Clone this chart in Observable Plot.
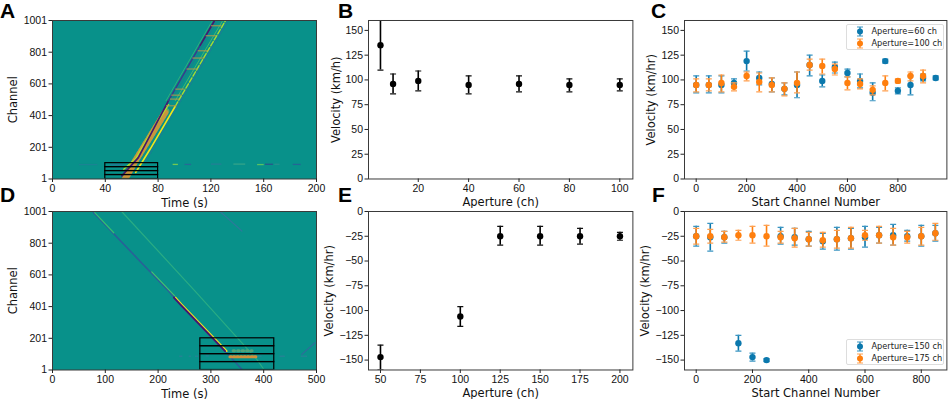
<!DOCTYPE html>
<html><head><meta charset="utf-8">
<script src="https://cdn.jsdelivr.net/npm/d3@7"></script>
<script src="https://cdn.jsdelivr.net/npm/@observablehq/plot@0.6"></script>
<style>
html,body{margin:0;padding:0;background:#fff}
#page{position:relative;width:948px;height:399px;overflow:hidden;font-family:"Liberation Sans",sans-serif}
.letter{position:absolute;font:bold 21px "Liberation Sans",sans-serif;color:#000;line-height:21px}
.legend{position:absolute;box-sizing:border-box;background:#fff;border:1px solid #ddd;border-radius:2px;font:8.2px "DejaVu Sans",sans-serif;color:#222;width:98px;height:26px;padding:0 0 0 6px;white-space:nowrap}
.legend div{display:flex;align-items:center;height:12px}
.legend svg{margin-right:5px;flex:none}
</style></head><body><div id="page"></div>
<script>
// Panel letters
const letters = ["A","B","C","D","E","F"];

// Panel A: ridges in the channel/time image
const aPurpleT = [52.5,65,87.9], aPurpleC = [21,136,495];
const aBlueUpT = [87.9,112], aBlueUpC = [495,846];
const aPurpleUpT = [112,122.5], aPurpleUpC = [846,996];
const aYellowT = [63,67.7,74,93], aYellowC = [42,105,190,460];
const aLimeT = [93,130.8], aLimeC = [460,996];
const aHaloT = [54,63,72,88], aHaloC = [62,130,260,470];
const aGreenT = [86,120.8], aGreenC = [495,996];
const aInnerBlueT = [90,124.5], aInnerBlueC = [495,996];
const aInnerGreenT = [93,128.6], aInnerGreenC = [495,996];
const aShadeT = [70,97,132.5], aShadeC = [105,495,996];
const aBandT = [55,62,69,86], aBandC = [1,105,200,430];
const aRungC = [968,905,810,764,695,568,530,505,463];
const aRungT1 = [120,116,110,106,101.5,93,90,89,86];
const aRungT2 = [128,124,118,115,110,100,98,96,94];
const aSpotT1 = [20,44,91,100,120,137,155,161,168,182];
const aSpotT2 = [34,54,95,105,128,146,160,167,172,188];
const aSpotC = [92,92,93,93,95,95,92,94,94,93];
const aSpotCol = ["#1f7f95","#2b6f9a","#8fd744","#2f5f98","#2a7a98","#3fa78a","#6ece58","#31478c","#2f8f8f","#2c5a98"];
const aBoxLow = [1,26,51,76], aBoxHigh = [26,51,76,101];

// Panel D: ridges
const dMainT = [77.7,219.7,241.9,327,359], dMainC = [994,499,415,120,4];
const dStrongT = [230,241.9,327], dStrongC = [458,415,120];
const dYellowT = [233,244.5,330], dYellowC = [458,415,120];
const dGreenT = [80,116], dGreenC = [994,867];
const dGreen2T = [188,231], dGreen2C = [620,470];
const dFaintT = [131,270,387,401], dFaintC = [1001,499,68,1];
const dFaint2T = [317.5,358.6], dFaint2C = [1001,878];
const dFaint3T = [472,497], dFaint3C = [99,173];
const dRungT = [336,386], dRungC = [85,85];
const dRung2T = [342,378], dRung2C = [122,122];
const dSpotT1 = [240,258,270,290,388,430,470];
const dSpotT2 = [246,262,276,296,396,440,482];
const dSpotC = [88,88,88,90,88,88,88];
const dBoxLow = [1,51,101,151], dBoxHigh = [51,101,151,201];

// Panel B
const bAperture = [5,10,20,40,60,80,100];
const bVel = [135,96,99,95,96,95,95];
const bLow = [110,86,89,86,88,88,89];
const bHigh = [168,106,109,104,104,101,101];

// Panel E
const eAperture = [50,100,125,150,175,200];
const eVel = [-147,-106,-25,-25,-25,-25];
const eLow = [-159.5,-116,-34,-34,-33,-29];
const eHigh = [-135,-96,-15,-15,-17,-21];

// Panel C
const c60Start = [0,50,100,150,200,250,300,350,400,450,500,550,600,650,700,750,800,850,900,950];
const c60Vel = [95,95,95,97,119,102,96,91,95,115,99,113,107,99,87,119,89,95,102,102];
const c60Low = [87,87,87,93,109,95,88,85,82,104,93,107,103,92,79,117,86,85,99,100];
const c60High = [104,104,104,101,129,108,102,97,108,125,105,118,111,106,97,121,92,104,106,104];
const c100Start = [0,50,100,150,200,250,300,350,400,450,500,550,600,650,700,750,800,850,900];
const c100Vel = [95,95,97,93,104,98,95,91,97,115,114,111,97,96,90,97,99,104,104];
const c100Low = [88,89,88,89,99,88,88,84,87,110,106,105,90,91,85,89,97,99,97];
const c100High = [101,101,105,97,108,107,102,97,108,121,121,116,103,101,94,104,101,108,110];

// Panel F
const f150Start = [0,50,100,150,200,250,300,350,400,450,500,550,600,650,700,750,800,850];
const f150Vel = [-25,-26,-26,-133,-147,-150,-25,-26,-28,-30,-28,-27,-26,-24,-24,-25,-25,-22];
const f150Low = [-35,-40,-32,-141,-151,-151.5,-33,-34,-35,-38,-39,-38,-36,-32,-34,-30,-35,-30];
const f150High = [-15,-12,-20,-125,-143,-148.5,-16,-17,-20,-22,-16,-17,-15,-16,-13,-19,-14,-14];
const f175Start = [0,50,100,150,200,250,300,350,400,450,500,550,600,650,700,750,800,850];
const f175Vel = [-25,-25,-26,-24,-24,-25,-26,-27,-28,-29,-28,-27,-24,-24,-26,-26,-25,-22];
const f175Low = [-33,-32,-31,-29,-32,-35,-32,-36,-35,-36,-37,-37,-29,-32,-34,-32,-34,-29];
const f175High = [-17,-18,-20,-19,-15,-14,-20,-17,-21,-21,-19,-16,-19,-15,-17,-20,-16,-12];

const BLUE = "#0b78ad", ORANGE = "#ff7f0e", BG = "#08918a";
const page = document.getElementById("page");
const mT = 8, mB = 30, H = 158.5;

function capSymbol(half){
  return {draw(ctx){ctx.moveTo(-half,0);ctx.lineTo(half,0);}};
}
function errorMarks(xs, v, lo, hi, color, capColor, r){
  const rows = xs.map((x,i)=>({x, v:v[i], lo:lo[i], hi:hi[i]}));
  return [
    Plot.ruleX(rows,{x:"x",y1:"lo",y2:"hi",stroke:color,strokeWidth:1.6,clip:true}),
    Plot.dot(rows,{x:"x",y:"lo",symbol:capSymbol(3),stroke:capColor,strokeWidth:1.2,clip:true}),
    Plot.dot(rows,{x:"x",y:"hi",symbol:capSymbol(3),stroke:capColor,strokeWidth:1.2,clip:true}),
    Plot.dot(rows,{x:"x",y:"v",r:r,fill:color,stroke:"none",clip:true})
  ];
}
function ridge(t,c,stroke,strokeWidth,extra={}){
  return Plot.line(t.map((d,i)=>({t:d,c:c[i]})),{x:"t",y:"c",stroke,strokeWidth,clip:true,imageFilter:"blur(0.55px)",...extra});
}
function spots(t1,t2,c,col,opacity=0.8){
  return Plot.link(t1.map((d,i)=>({a:d,b:t2[i],c:c[i],k:col?col[i]:"#2f7f9a"})),{x1:"a",x2:"b",y1:"c",y2:"c",stroke:"k",strokeWidth:1.3,strokeOpacity:opacity,clip:true,imageFilter:"blur(0.5px)"});
}
function panel(o){
  const W = o.right - o.left;
  const plot = Plot.plot({
    width:o.mL+W+o.mRight, height:mT+H+mB,
    marginLeft:o.mL, marginRight:o.mRight, marginTop:mT, marginBottom:mB,
    style:{background:"transparent",position:"absolute",left:(o.left-o.mL)+"px",top:(o.top-mT)+"px",maxWidth:"none"},
    x:{domain:o.xd}, y:{domain:o.yd},
    marks:[
      Plot.frame({fill:o.bg||"#fff",stroke:"none"}),
      ...o.marks,
      Plot.frame({stroke:"#3a3a3a",strokeWidth:1}),
      Plot.axisX({ticks:o.xt,tickSize:3.5,tickPadding:2,fontSize:10.5,stroke:"#222",color:"#111",fontFamily:"Liberation Sans",label:null,tickFormat:"d"}),
      Plot.axisY({ticks:o.yt,tickSize:3.5,tickPadding:2,fontSize:10.5,stroke:"#222",color:"#111",fontFamily:"Liberation Sans",label:null,tickFormat:"d"}),
      Plot.axisX({ticks:[],label:o.xl,labelAnchor:"center",labelArrow:"none",labelOffset:27.5,fontSize:11.5,fontFamily:"DejaVu Sans",color:"#111",tickSize:0}),
      Plot.axisY({ticks:[],label:o.yl,labelAnchor:"center",labelArrow:"none",labelOffset:o.ylo,fontSize:11.5,fontFamily:"DejaVu Sans",color:"#111",tickSize:0})
    ]
  });
  page.appendChild(plot);
}
function box(low,high,t1,t2){
  return Plot.rect(low.map((d,i)=>({a:d,b:high[i],t1,t2})),{x1:"t1",x2:"t2",y1:"a",y2:"b",stroke:"#000",strokeWidth:1.2,fill:"none",clip:true});
}

// Panel A
panel({left:52.3,right:316.3,top:20,mL:50,mRight:14,xd:[0,200],yd:[1,1001],xt:[0,40,80,120,160,200],yt:[1,201,401,601,801,1001],
  xl:"Time (s)",yl:"Channel",ylo:44,bg:BG,marks:[
  spots(aSpotT1,aSpotT2,aSpotC,aSpotCol),
  ridge(aShadeT,aShadeC,"#2a6f9e",1.4,{strokeOpacity:.5}),
  ridge(aBandT,aBandC,"#5fa868",6.5),
  ridge(aBandT,aBandC,"#c9963c",6.5,{strokeDasharray:"1.5 2.5"}),
  ridge(aHaloT,aHaloC,"#b5de2b",1.3),
  ridge(aGreenT,aGreenC,"#35b779",1,{strokeOpacity:.8}),
  ridge(aInnerBlueT,aInnerBlueC,"#2f6c8e",1,{strokeOpacity:.6}),
  ridge(aInnerGreenT,aInnerGreenC,"#6ece58",1,{strokeOpacity:.6}),
  ridge(aPurpleT,aPurpleC,"#46196e",1.7),
  ridge(aBlueUpT,aBlueUpC,"#3b3a8a",1.5),
  ridge(aPurpleUpT,aPurpleUpC,"#46196e",1.7),
  ridge(aYellowT,aYellowC,"#f0e51c",1.6),
  ridge(aLimeT,aLimeC,"#a8db34",1.4,{strokeDasharray:"5 2"}),
  spots(aRungT1,aRungT2,aRungC,aRungC.map(()=>"#b99a45"),0.75),
  box(aBoxLow,aBoxHigh,40,80)
]});

// Panel D
panel({left:52.3,right:316.3,top:210.7,mL:50,mRight:14,xd:[0,500],yd:[1,1001],xt:[0,100,200,300,400,500],yt:[1,201,401,601,801,1001],
  xl:"Time (s)",yl:"Channel",ylo:44,bg:BG,marks:[
  spots(dSpotT1,dSpotT2,dSpotC),
  ridge(dFaintT,dFaintC,"#2fb083",1.2,{strokeOpacity:.85}),
  ridge(dFaint2T,dFaint2C,"#2c7a9a",1.2),
  ridge(dFaint3T,dFaint3C,"#2c6f9a",1.2),
  ridge(dMainT,dMainC,"#2b5f98",1.5),
  ridge(dGreenT,dGreenC,"#35c070",1.2),
  ridge(dGreen2T,dGreen2C,"#49c16d",1.1),
  ridge(dYellowT,dYellowC,"#f5e61f",1.8),
  ridge(dStrongT,dStrongC,"#46146e",1.9),
  ridge(dRungT,dRungC,"#d0913a",3,{strokeDasharray:"1.5 2"}),
  ridge(dRung2T,dRung2C,"#4fa27a",3,{strokeDasharray:"1.5 3"}),
  box(dBoxLow,dBoxHigh,280,420)
]});

// Panel B
panel({left:368.3,right:632.7,top:20,mL:50,mRight:1,xd:[0.25,105.2],yd:[0,160],xt:[20,40,60,80,100],yt:[0,25,50,75,100,125,150],
  xl:"Aperture (ch)",yl:"Velocity (km/h)",ylo:37,marks:errorMarks(bAperture,bVel,bLow,bHigh,"#000","#111",3.2)
});
// Panel E
panel({left:368.3,right:632.7,top:210.7,mL:50,mRight:1,xd:[42.5,208.1],yd:[-160,0],xt:[50,75,100,125,150,175,200],yt:[0,-25,-50,-75,-100,-125,-150],
  xl:"Aperture (ch)",yl:"Velocity (km/hr)",ylo:44,marks:errorMarks(eAperture,eVel,eLow,eHigh,"#000","#111",3.2)
});
// Panel C
panel({left:684.3,right:946.7,top:20,mL:50,mRight:1,xd:[-46.4,994.4],yd:[0,160],xt:[0,200,400,600,800],yt:[0,25,50,75,100,125,150],
  xl:"Start Channel Number",yl:"Velocity (km/hr)",ylo:37.5,marks:[
  ...errorMarks(c60Start,c60Vel,c60Low,c60High,BLUE,"#3a95c2",3.2),
  ...errorMarks(c100Start,c100Vel,c100Low,c100High,ORANGE,"#ffa050",3.2)
]});
// Panel F
panel({left:684.3,right:946.7,top:210.7,mL:50,mRight:1,xd:[-41.6,891],yd:[-160,0],xt:[0,200,400,600,800],yt:[0,-25,-50,-75,-100,-125,-150],
  xl:"Start Channel Number",yl:"Velocity (km/hr)",ylo:44,marks:[
  ...errorMarks(f150Start,f150Vel,f150Low,f150High,BLUE,"#3a95c2",3.2),
  ...errorMarks(f175Start,f175Vel,f175Low,f175High,ORANGE,"#ffa050",3.2)
]});

// Legends
function legend(names, top){
  const el = document.createElement("div");
  el.className = "legend";
  el.style.left = "845.5px"; el.style.top = top+"px";
  [[names[0],BLUE,"#3a95c2"],[names[1],ORANGE,"#ffa050"]].forEach(([n,c,cc])=>{
    const row = document.createElement("div");
    row.innerHTML = `<svg width="14" height="11"><line x1="7" x2="7" y1="1" y2="10" stroke="${c}" stroke-width="1.3"/><line x1="4" x2="10" y1="1" y2="1" stroke="${cc}"/><line x1="4" x2="10" y1="10" y2="10" stroke="${cc}"/><circle cx="7" cy="5.5" r="3" fill="${c}"/></svg><span>${n}</span>`;
    el.appendChild(row);
  });
  page.appendChild(el);
}
legend(["Aperture=60 ch","Aperture=100 ch"],24);
legend(["Aperture=150 ch","Aperture=175 ch"],339);

// Panel letters
const letterX = [0,338,651,0,338,652], letterY = [0,0,0,184,184,184];
letters.forEach((l,i)=>{
  const d = document.createElement("div");
  d.className = "letter"; d.textContent = l;
  d.style.left = letterX[i]+"px"; d.style.top = letterY[i]+"px";
  page.appendChild(d);
});
</script></body></html>
